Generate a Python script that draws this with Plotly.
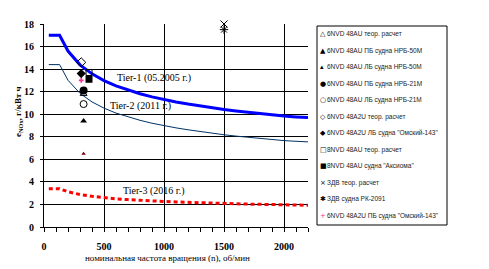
import plotly.graph_objects as go

# ---------------- data ----------------
tier_n = [40, 130, 200, 300, 400, 500, 600, 700, 800, 900, 1000, 1100, 1200,
          1300, 1400, 1500, 1600, 1700, 1800, 1900, 2000, 2100, 2200]
tier1 = [17.0, 17.0, 15.6, 14.38, 13.58, 12.98, 12.52, 12.14, 11.82, 11.54, 11.3,
         11.09, 10.9, 10.73, 10.57, 10.42, 10.29, 10.17, 10.05, 9.94, 9.84, 9.76, 9.7]
tier2 = [14.4, 14.4, 13.01, 11.85, 11.09, 10.54, 10.1, 9.75, 9.46, 9.2, 8.98,
         8.79, 8.62, 8.46, 8.31, 8.18, 8.06, 7.95, 7.85, 7.75, 7.66, 7.6, 7.55]
tier3 = [3.4, 3.4, 3.12, 2.88, 2.72, 2.6, 2.5, 2.43, 2.36, 2.31, 2.26,
         2.22, 2.18, 2.15, 2.11, 2.08, 2.06, 2.03, 2.01, 1.99, 1.97, 1.95, 1.93]

series_names = [
    '6NVD 48AU теор. расчет',
    '6NVD 48AU ПБ судна НРБ-50М',
    '6NVD 48AU ЛБ судна НРБ-50М',
    '6NVD 48AU ПБ судна НРБ-21М',
    '6NVD 48AU ЛБ судна НРБ-21М',
    '6NVD 48A2U теор. расчет',
    '6NVD 48A2U ЛБ судна "Омский-143"',
    '8NVD 48AU теор. расчет',
    '8NVD 48AU судна "Аксиома"',
    'ЗДВ теор. расчет',
    'ЗДВ судна РК-2091',
    '6NVD 48A2U ПБ судна "Омский-143"',
]
series_n = [330, 330, 330, 330, 330, 310, 310, 375, 375, 1500, 1500, 310]
series_e = [11.8, 9.4, 6.5, 12.1, 10.9, 14.6, 13.6, 13.7, 13.1, 18.0, 17.5, 13.0]

legend_glyphs = ['△', '▲', '▴', '●', '○', '◇', '◆', '□', '■', '×', '✱', '+']

tier_labels = ['Tier-1 (05.2005 г.)', 'Tier-2 (2011 г.)', 'Tier-3 (2016 г.)']
tier_label_x = [917, 808, 920]
tier_label_y = [13.25, 10.75, 3.15]

x_ticks = [0, 500, 1000, 1500, 2000]
y_ticks = [0, 2, 4, 6, 8, 10, 12, 14, 16, 18]

# ---------------- styles ----------------
marker_styles = [
    dict(symbol='triangle-up-open', size=6, color='black'),
    dict(symbol='triangle-up', size=6, color='black'),
    dict(symbol='triangle-up', size=4, color='#7a0000'),
    dict(symbol='circle', size=8, color='black'),
    dict(symbol='circle-open', size=7, color='black'),
    dict(symbol='diamond-open', size=7, color='black'),
    dict(symbol='diamond', size=7, color='black'),
    dict(symbol='square-open', size=6, color='black'),
    dict(symbol='square', size=7, color='black'),
    dict(symbol='x-thin-open', size=7, color='black', line=dict(width=1, color='black')),
    dict(symbol='asterisk-open', size=7, color='black', line=dict(width=1, color='black')),
    dict(symbol='cross', size=4, color='#ff3399'),
]
legend_glyph_colors = ['black'] * 11 + ['#ff3399']

W, H = 489, 269
L, R, T, B = 44, 181, 24, 42
PW, PH = W - L - R, H - T - B


def px2paper_x(px):
    return (px - L) / PW


def px2paper_y(py):
    return (H - B - py) / PH


fig = go.Figure()

fig.add_trace(go.Scatter(x=tier_n, y=tier1, mode='lines', showlegend=False,
                         line=dict(color='#0000ff', width=3)))
fig.add_trace(go.Scatter(x=tier_n, y=tier2, mode='lines', showlegend=False,
                         line=dict(color='#003366', width=1)))
fig.add_trace(go.Scatter(x=tier_n, y=tier3, mode='lines', showlegend=False,
                         line=dict(color='#ff0000', width=3, dash='4px,3px')))

for name, n, e, ms in zip(series_names, series_n, series_e, marker_styles):
    fig.add_trace(go.Scatter(x=[n], y=[e], mode='markers', name=name,
                             showlegend=False, cliponaxis=False, marker=ms))

ann = []
for txt, x, y in zip(tier_labels, tier_label_x, tier_label_y):
    ann.append(dict(x=x, y=y, xref='x', yref='y', text=txt, showarrow=False,
                    font=dict(family='Liberation Serif', size=10, color='black')))

# axis titles
ann.append(dict(x=px2paper_x(167), y=px2paper_y(258), xref='paper', yref='paper',
                xanchor='center', yanchor='middle',
                text='номинальная частота вращения (n), об/мин', showarrow=False,
                font=dict(family='Liberation Serif', size=9, color='black')))
ann.append(dict(x=px2paper_x(18), y=px2paper_y(112), xref='paper', yref='paper',
                xanchor='center', yanchor='middle',
                text='e<sub>NOx</sub>, г/кВт ч', showarrow=False, textangle=-90,
                font=dict(family='Liberation Serif', size=9, color='black', weight='bold')))

# legend (drawn as text)
leg_top = 34
leg_step = 16.5
for i, (g, name, c) in enumerate(zip(legend_glyphs, series_names, legend_glyph_colors)):
    yy = px2paper_y(leg_top + i * leg_step)
    ann.append(dict(x=px2paper_x(318), y=yy, xref='paper', yref='paper', text=g,
                    showarrow=False, xanchor='left', yanchor='middle',
                    font=dict(family='DejaVu Sans', size=7, color=c)))
    ann.append(dict(x=px2paper_x(325), y=yy, xref='paper', yref='paper', text=name,
                    showarrow=False, xanchor='left', yanchor='middle',
                    font=dict(family='Liberation Sans', size=6.5, color='#222222')))

shapes = [dict(type='rect', xref='paper', yref='paper',
               x0=px2paper_x(317), x1=px2paper_x(447),
               y0=px2paper_y(225), y1=px2paper_y(26),
               line=dict(color='black', width=1), fillcolor='rgba(0,0,0,0)')]

fig.update_layout(
    width=W, height=H,
    margin=dict(l=L, r=R, t=T, b=B, pad=0),
    paper_bgcolor='white', plot_bgcolor='white',
    showlegend=False,
    annotations=ann,
    shapes=shapes,
    xaxis=dict(range=[0, 2200], tickvals=x_ticks, showgrid=True, gridcolor='black',
               gridwidth=1, zeroline=False, showline=True, linecolor='black', linewidth=1,
               ticks='outside', ticklen=4, tickcolor='black',
               minor=dict(dtick=100, ticks='outside', ticklen=4, tickcolor='black', showgrid=False),
               tickfont=dict(family='Liberation Serif', size=10, color='black', weight='bold'),
               ticklabelstandoff=6),
    yaxis=dict(range=[0, 18], tickvals=y_ticks, showgrid=True, gridcolor='black',
               gridwidth=1, zeroline=False, showline=True, linecolor='black', linewidth=1,
               ticks='outside', ticklen=3, tickcolor='black',
               tickfont=dict(family='Liberation Serif', size=10, color='black', weight='bold'),
               ticklabelstandoff=4),
)

fig.write_html('out.html', config={'displayModeBar': False},
               post_script="document.body.style.margin='0';document.body.style.overflow='hidden';")
